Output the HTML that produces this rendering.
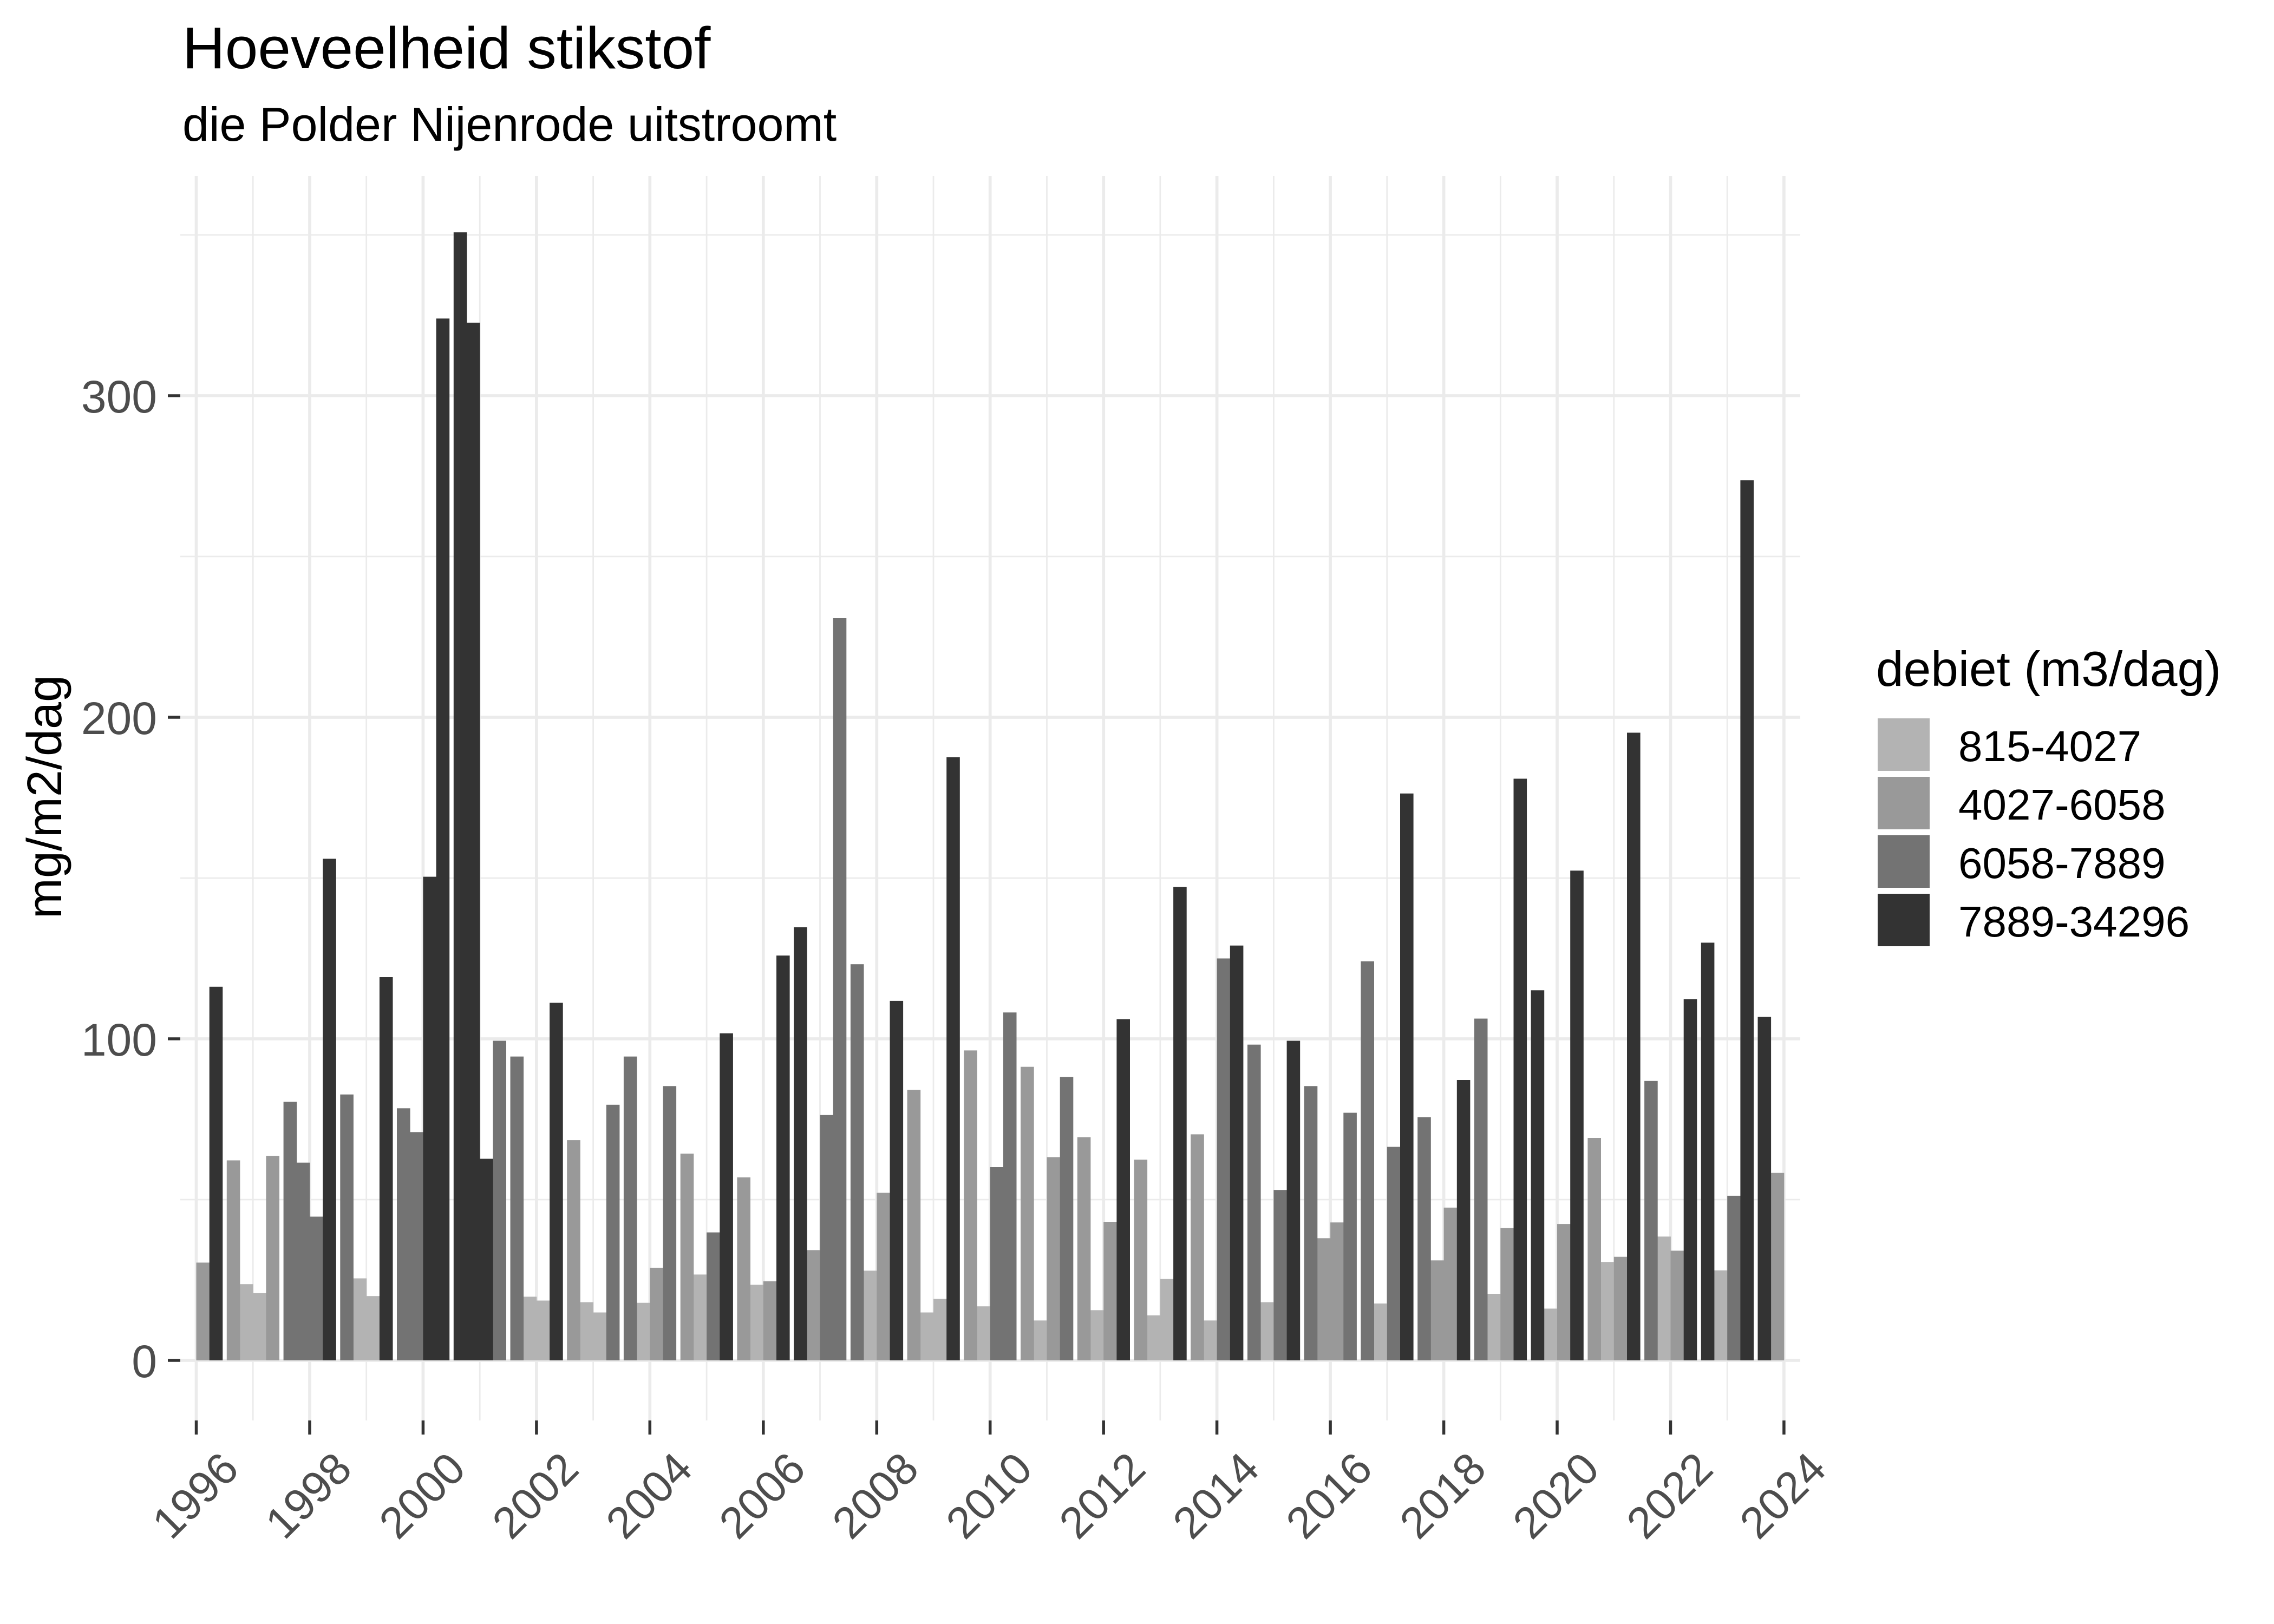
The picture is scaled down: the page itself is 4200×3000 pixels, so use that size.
<!DOCTYPE html>
<html><head><meta charset="utf-8"><style>html,body{margin:0;padding:0;background:#fff}svg{display:block}</style></head>
<body>
<svg xmlns="http://www.w3.org/2000/svg" width="4200" height="3000" viewBox="0 0 4200 3000" font-family="Liberation Sans, Arial, sans-serif">
<rect width="4200" height="3000" fill="#fff"/>
<text x="337" y="126" font-size="109" fill="#000">Hoeveelheid stikstof</text>
<text x="337" y="260" font-size="88" fill="#000">die Polder Nijenrode uitstroomt</text>
<g stroke="#ebebeb">
<g stroke-width="2.8">
<line x1="333" x2="3325" y1="2216" y2="2216"/><line x1="333" x2="3325" y1="1622" y2="1622"/><line x1="333" x2="3325" y1="1028" y2="1028"/><line x1="333" x2="3325" y1="434" y2="434"/>
<line x1="467.2" x2="467.2" y1="325" y2="2624"/><line x1="676.7" x2="676.7" y1="325" y2="2624"/><line x1="886.2" x2="886.2" y1="325" y2="2624"/><line x1="1095.6" x2="1095.6" y1="325" y2="2624"/><line x1="1305.1" x2="1305.1" y1="325" y2="2624"/><line x1="1514.5" x2="1514.5" y1="325" y2="2624"/><line x1="1724" x2="1724" y1="325" y2="2624"/><line x1="1933.5" x2="1933.5" y1="325" y2="2624"/><line x1="2142.9" x2="2142.9" y1="325" y2="2624"/><line x1="2352.4" x2="2352.4" y1="325" y2="2624"/><line x1="2561.8" x2="2561.8" y1="325" y2="2624"/><line x1="2771.3" x2="2771.3" y1="325" y2="2624"/><line x1="2980.8" x2="2980.8" y1="325" y2="2624"/><line x1="3190.2" x2="3190.2" y1="325" y2="2624"/>
</g>
<g stroke-width="5.7">
<line x1="333" x2="3325" y1="2513" y2="2513"/><line x1="333" x2="3325" y1="1919" y2="1919"/><line x1="333" x2="3325" y1="1325" y2="1325"/><line x1="333" x2="3325" y1="731" y2="731"/>
<line x1="362.5" x2="362.5" y1="325" y2="2624"/><line x1="572" x2="572" y1="325" y2="2624"/><line x1="781.4" x2="781.4" y1="325" y2="2624"/><line x1="990.9" x2="990.9" y1="325" y2="2624"/><line x1="1200.3" x2="1200.3" y1="325" y2="2624"/><line x1="1409.8" x2="1409.8" y1="325" y2="2624"/><line x1="1619.3" x2="1619.3" y1="325" y2="2624"/><line x1="1828.7" x2="1828.7" y1="325" y2="2624"/><line x1="2038.2" x2="2038.2" y1="325" y2="2624"/><line x1="2247.6" x2="2247.6" y1="325" y2="2624"/><line x1="2457.1" x2="2457.1" y1="325" y2="2624"/><line x1="2666.6" x2="2666.6" y1="325" y2="2624"/><line x1="2876" x2="2876" y1="325" y2="2624"/><line x1="3085.5" x2="3085.5" y1="325" y2="2624"/><line x1="3294.9" x2="3294.9" y1="325" y2="2624"/>
</g>
</g>
<g transform="translate(0,2513) scale(1,-1)">
<g fill="#b3b3b3">
<rect x="443.0" y="0" width="24.6" height="140.8"/><rect x="467.2" y="0" width="24.6" height="124.1"/>
<rect x="652.5" y="0" width="24.6" height="151.5"/><rect x="676.7" y="0" width="24.6" height="118.8"/>
<rect x="966.7" y="0" width="24.6" height="117.6"/><rect x="990.9" y="0" width="24.6" height="110.5"/>
<rect x="1071.4" y="0" width="24.6" height="107.5"/><rect x="1095.6" y="0" width="24.6" height="88.5"/>
<rect x="1176.1" y="0" width="24.6" height="106.3"/>
<rect x="1280.9" y="0" width="24.6" height="158.6"/>
<rect x="1385.6" y="0" width="24.6" height="139.6"/>
<rect x="1595.1" y="0" width="24.6" height="165.7"/>
<rect x="1699.8" y="0" width="24.6" height="88.5"/><rect x="1724.0" y="0" width="24.6" height="113.5"/>
<rect x="1804.5" y="0" width="24.6" height="99.8"/>
<rect x="1909.3" y="0" width="24.6" height="73.7"/>
<rect x="2014.0" y="0" width="24.6" height="92.7"/>
<rect x="2118.7" y="0" width="24.6" height="83.2"/><rect x="2142.9" y="0" width="24.6" height="150.3"/>
<rect x="2223.4" y="0" width="24.6" height="73.7"/>
<rect x="2328.2" y="0" width="24.6" height="107.5"/>
<rect x="2537.6" y="0" width="24.6" height="105.1"/>
<rect x="2747.1" y="0" width="24.6" height="123.0"/>
<rect x="2851.8" y="0" width="24.6" height="95.6"/>
<rect x="2956.6" y="0" width="24.6" height="181.8"/>
<rect x="3061.3" y="0" width="24.6" height="228.7"/>
<rect x="3166.0" y="0" width="24.6" height="166.3"/>
</g>
<g fill="#999999">
<rect x="362.5" y="0" width="24.6" height="180.6"/>
<rect x="418.8" y="0" width="24.6" height="369.5"/><rect x="491.4" y="0" width="24.6" height="377.8"/>
<rect x="1047.2" y="0" width="24.6" height="406.9"/>
<rect x="1200.3" y="0" width="24.6" height="171.1"/>
<rect x="1256.7" y="0" width="24.6" height="381.9"/>
<rect x="1361.4" y="0" width="24.6" height="338.0"/><rect x="1409.8" y="0" width="24.6" height="146.1"/>
<rect x="1490.3" y="0" width="24.6" height="203.7"/>
<rect x="1619.3" y="0" width="24.6" height="309.5"/>
<rect x="1675.6" y="0" width="24.6" height="499.6"/>
<rect x="1780.3" y="0" width="24.6" height="572.6"/>
<rect x="1885.1" y="0" width="24.6" height="542.3"/><rect x="1933.5" y="0" width="24.6" height="375.4"/>
<rect x="1989.8" y="0" width="24.6" height="412.2"/><rect x="2038.2" y="0" width="24.6" height="256.0"/>
<rect x="2094.5" y="0" width="24.6" height="370.7"/>
<rect x="2199.2" y="0" width="24.6" height="417.6"/>
<rect x="2432.9" y="0" width="24.6" height="225.7"/><rect x="2457.1" y="0" width="24.6" height="254.8"/>
<rect x="2642.4" y="0" width="24.6" height="184.7"/><rect x="2666.6" y="0" width="24.6" height="282.2"/>
<rect x="2771.3" y="0" width="24.6" height="244.7"/>
<rect x="2876.0" y="0" width="24.6" height="251.9"/>
<rect x="2932.4" y="0" width="24.6" height="411.0"/><rect x="2980.8" y="0" width="24.6" height="191.3"/>
<rect x="3085.5" y="0" width="24.6" height="202.6"/>
<rect x="3270.7" y="0" width="24.6" height="346.3"/>
</g>
<g fill="#737373">
<rect x="523.6" y="0" width="24.6" height="477.6"/><rect x="547.8" y="0" width="24.6" height="365.3"/><rect x="572.0" y="0" width="24.6" height="265.5"/>
<rect x="628.3" y="0" width="24.6" height="491.2"/>
<rect x="733.0" y="0" width="24.6" height="465.7"/><rect x="757.2" y="0" width="24.6" height="421.7"/>
<rect x="910.4" y="0" width="24.6" height="590.4"/>
<rect x="942.5" y="0" width="24.6" height="561.3"/>
<rect x="1119.8" y="0" width="24.6" height="472.2"/>
<rect x="1151.9" y="0" width="24.6" height="561.3"/><rect x="1224.5" y="0" width="24.6" height="506.7"/>
<rect x="1305.1" y="0" width="24.6" height="236.4"/>
<rect x="1514.5" y="0" width="24.6" height="453.2"/><rect x="1538.7" y="0" width="24.6" height="1371.0"/>
<rect x="1570.9" y="0" width="24.6" height="731.8"/>
<rect x="1828.7" y="0" width="24.6" height="357.0"/><rect x="1852.9" y="0" width="24.6" height="642.7"/>
<rect x="1957.7" y="0" width="24.6" height="523.3"/>
<rect x="2247.6" y="0" width="24.6" height="742.5"/>
<rect x="2304.0" y="0" width="24.6" height="583.3"/><rect x="2352.4" y="0" width="24.6" height="314.8"/>
<rect x="2408.7" y="0" width="24.6" height="506.7"/><rect x="2481.3" y="0" width="24.6" height="457.4"/>
<rect x="2513.4" y="0" width="24.6" height="737.2"/><rect x="2561.8" y="0" width="24.6" height="394.4"/>
<rect x="2618.2" y="0" width="24.6" height="449.1"/>
<rect x="2722.9" y="0" width="24.6" height="631.4"/>
<rect x="3037.1" y="0" width="24.6" height="516.2"/>
<rect x="3190.2" y="0" width="24.6" height="304.1"/>
</g>
<g fill="#333333">
<rect x="386.7" y="0" width="24.6" height="690.2"/>
<rect x="596.2" y="0" width="24.6" height="926.6"/>
<rect x="700.9" y="0" width="24.6" height="708.0"/>
<rect x="781.4" y="0" width="24.6" height="893.4"/><rect x="805.6" y="0" width="24.6" height="1924.6"/>
<rect x="837.8" y="0" width="24.6" height="2083.8"/><rect x="862.0" y="0" width="24.6" height="1916.8"/><rect x="886.2" y="0" width="24.6" height="372.4"/>
<rect x="1015.1" y="0" width="24.6" height="660.5"/>
<rect x="1329.3" y="0" width="24.6" height="604.1"/>
<rect x="1434.0" y="0" width="24.6" height="747.8"/>
<rect x="1466.1" y="0" width="24.6" height="800.1"/>
<rect x="1643.5" y="0" width="24.6" height="664.1"/>
<rect x="1748.2" y="0" width="24.6" height="1114.3"/>
<rect x="2062.4" y="0" width="24.6" height="630.2"/>
<rect x="2167.1" y="0" width="24.6" height="874.4"/>
<rect x="2271.8" y="0" width="24.6" height="766.3"/>
<rect x="2376.6" y="0" width="24.6" height="590.4"/>
<rect x="2586.0" y="0" width="24.6" height="1047.2"/>
<rect x="2690.8" y="0" width="24.6" height="518.0"/>
<rect x="2795.5" y="0" width="24.6" height="1074.5"/>
<rect x="2827.6" y="0" width="24.6" height="683.7"/><rect x="2900.2" y="0" width="24.6" height="904.7"/>
<rect x="3005.0" y="0" width="24.6" height="1159.5"/>
<rect x="3109.7" y="0" width="24.6" height="667.1"/>
<rect x="3141.8" y="0" width="24.6" height="771.6"/><rect x="3214.4" y="0" width="24.6" height="1625.8"/>
<rect x="3246.5" y="0" width="24.6" height="634.4"/>
</g>
</g>
<g stroke="#333" stroke-width="5.5">
<line x1="310" x2="333" y1="2513" y2="2513"/><line x1="310" x2="333" y1="1919" y2="1919"/><line x1="310" x2="333" y1="1325" y2="1325"/><line x1="310" x2="333" y1="731" y2="731"/>
</g>
<g stroke="#333" stroke-width="5.5">
<line x1="362.5" x2="362.5" y1="2624" y2="2650"/><line x1="572" x2="572" y1="2624" y2="2650"/><line x1="781.4" x2="781.4" y1="2624" y2="2650"/><line x1="990.9" x2="990.9" y1="2624" y2="2650"/><line x1="1200.3" x2="1200.3" y1="2624" y2="2650"/><line x1="1409.8" x2="1409.8" y1="2624" y2="2650"/><line x1="1619.3" x2="1619.3" y1="2624" y2="2650"/><line x1="1828.7" x2="1828.7" y1="2624" y2="2650"/><line x1="2038.2" x2="2038.2" y1="2624" y2="2650"/><line x1="2247.6" x2="2247.6" y1="2624" y2="2650"/><line x1="2457.1" x2="2457.1" y1="2624" y2="2650"/><line x1="2666.6" x2="2666.6" y1="2624" y2="2650"/><line x1="2876" x2="2876" y1="2624" y2="2650"/><line x1="3085.5" x2="3085.5" y1="2624" y2="2650"/><line x1="3294.9" x2="3294.9" y1="2624" y2="2650"/>
</g>
<g fill="#4d4d4d" font-size="84" text-anchor="end">
<text x="290" y="2544">0</text><text x="290" y="1950">100</text><text x="290" y="1356">200</text><text x="290" y="762">300</text>
</g>
<g fill="#4d4d4d" font-size="82" text-anchor="end">
<text transform="translate(445,2718) rotate(-45)">1996</text>
<text transform="translate(654,2718) rotate(-45)">1998</text>
<text transform="translate(864,2718) rotate(-45)">2000</text>
<text transform="translate(1073,2718) rotate(-45)">2002</text>
<text transform="translate(1283,2718) rotate(-45)">2004</text>
<text transform="translate(1492,2718) rotate(-45)">2006</text>
<text transform="translate(1701,2718) rotate(-45)">2008</text>
<text transform="translate(1911,2718) rotate(-45)">2010</text>
<text transform="translate(2120,2718) rotate(-45)">2012</text>
<text transform="translate(2330,2718) rotate(-45)">2014</text>
<text transform="translate(2539,2718) rotate(-45)">2016</text>
<text transform="translate(2749,2718) rotate(-45)">2018</text>
<text transform="translate(2958,2718) rotate(-45)">2020</text>
<text transform="translate(3168,2718) rotate(-45)">2022</text>
<text transform="translate(3377,2718) rotate(-45)">2024</text>
</g>
<text transform="translate(113,1472) rotate(-90)" text-anchor="middle" font-size="90" fill="#000">mg/m2/dag</text>
<text x="3465" y="1267" font-size="91" fill="#000">debiet (m3/dag)</text>
<rect x="3468" y="1327" width="96" height="97" fill="#b3b3b3"/>
<rect x="3468" y="1435" width="96" height="97" fill="#999999"/>
<rect x="3468" y="1543" width="96" height="97" fill="#737373"/>
<rect x="3468" y="1651" width="96" height="97" fill="#333333"/>
<g font-size="80" fill="#000">
<text x="3617" y="1406">815-4027</text>
<text x="3617" y="1514">4027-6058</text>
<text x="3617" y="1622">6058-7889</text>
<text x="3617" y="1730">7889-34296</text>
</g>
</svg>
</body></html>
